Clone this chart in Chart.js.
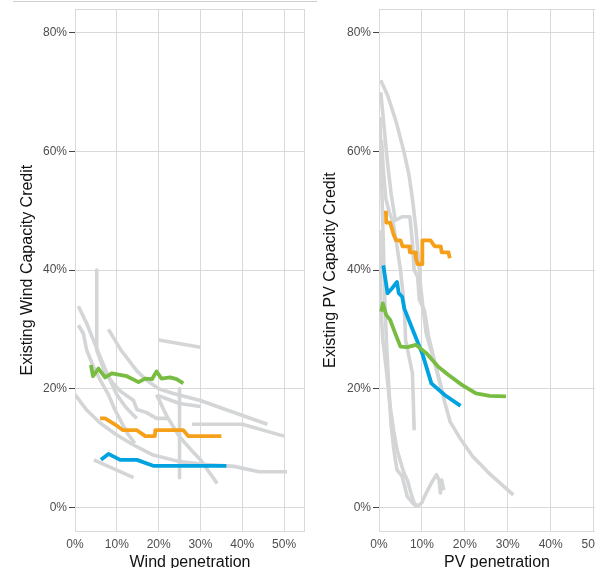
<!DOCTYPE html>
<html>
<head>
<meta charset="utf-8">
<script src="https://cdn.jsdelivr.net/npm/chart.js@4.4.1/dist/chart.umd.min.js"></script>
<style>
  html, body { margin: 0; padding: 0; background: #fff; overflow: hidden; }
  body { width: 595px; height: 568px; position: relative; }
  #topline { position: absolute; left: 13px; top: 1px; width: 304px; height: 0; border-top: 1px solid #cfcfcf; }
  #windChart { position: absolute; left: 0; top: 0; }
  #pvChart { position: absolute; left: 310px; top: 0; }
</style>
</head>
<body>
<div id="topline"></div>
<canvas id="windChart" width="310" height="580"></canvas>
<canvas id="pvChart" width="310" height="580"></canvas>
<script>
// tick values (percent)
const xTicks = [0, 10, 20, 30, 40, 50];
const yTicks = [0, 20, 40, 60, 80];

// --- wind panel: [penetration %, capacity credit %] ---
const windGreen = [[3.8,24.0],[4.3,22.1],[5.6,23.4],[7.2,21.9],[8.8,22.6],[12.4,22.1],[15.2,21.1],[16.8,21.7],[18.4,21.6],[19.5,22.9],[20.7,21.7],[22.7,21.9],[24.3,21.6],[25.9,20.9]];
const windOrange = [[6,15],[7.2,15],[9.5,14],[11.5,13],[14.8,13],[16.8,12],[19.1,12],[19.2,13],[25.9,13],[27.1,12],[35,12]];
const windBlue = [[6.2,8],[8,9],[10.8,8],[14.8,8],[18.7,7],[36.2,7]];
const windGrey = [
  [[0.8,33.9],[2.8,31],[4.4,28.2],[6,25.4],[8,22],[10,19],[12,17],[14,15.5],[14.8,15]],
  [[0.8,30.7],[2,29.3],[2.8,26.5],[4.4,23.7],[6,21.5],[8,19],[9.5,16.5],[11,14.5],[12.5,12.5],[14.3,10.8]],
  [[5.2,40],[5.2,26.5],[7,23],[9,21],[11,19.5],[13,18.5],[14,18],[14.8,16.5],[17,16],[19.5,15],[22,15]],
  [[8,30],[11,26.5],[14.8,23],[17,21.5],[20,20],[23.5,19.2],[30,18],[36,16.5],[46,14]],
  [[20,28.2],[30,27]],
  [[20,18.8],[25,17.5],[30,17]],
  [[19.5,19],[22,15.3],[25,11.9],[28,9.5],[30,8],[34,4]],
  [[0,19],[2.8,16.4],[6,14.2],[10,12.2],[14,10.5],[18.7,8.8],[25,7.7],[31.5,7.2],[38,6.9],[44,6],[50.7,6]],
  [[4.5,8],[14,5]],
  [[25,20],[25,5]],
  [[28,14],[40,14],[50,12]]
];

// --- PV panel ---
const pvGreen = [[0.5,33.0],[0.9,34.4],[1.7,32.4],[2.6,31.6],[3.8,29.3],[5.0,27.1],[6.6,27.0],[8.6,27.4],[11.0,26.0],[13.8,23.7],[16.2,22.3],[19.4,20.6],[22.6,19.2],[25.8,18.8],[29.6,18.7]];
const pvOrange = [[1.6,50],[1.7,48],[2.6,48],[3,47],[3.4,46],[4,45],[5,45],[5.5,44],[7,44],[7.2,43],[8.4,43],[8.6,42],[9,41],[10.1,41],[10.1,45],[12,45],[13,44],[14.4,44],[14.6,43],[16.2,43],[16.5,42]];
const pvBlue = [[1.0,40.8],[2.0,36.1],[3.0,36.9],[4.2,38.0],[4.6,36.1],[5.4,35.5],[5.9,33.5],[8.2,29.3],[10.2,25.7],[12.2,20.9],[15.4,18.9],[19.0,17.1]];
const pvGrey = [
  [[0.4,72],[2,69.5],[4,65],[5.8,60],[7,56],[7.8,52],[8.6,47],[9.2,42],[9.6,38],[10.2,34],[11,29.3],[13,24.3],[14.6,19.8],[15.4,17.5],[16.6,14.4],[19,11.5],[21.8,8.6],[26,5.5],[31.3,2.1]],
  [[0.4,70],[1.2,64],[2,58],[2.8,53],[3.8,48.4],[5.4,49],[7.2,49],[7.8,44.5],[8.2,40],[9,38.9],[9.4,35],[10.6,33.2],[11.5,29],[12.5,26],[13.5,23],[14.6,20]],
  [[0.2,65.8],[0.5,58],[0.8,50],[1.1,42],[1.4,34],[1.8,27],[2.3,20],[2.8,14],[3.5,9.5],[4.2,6.3],[5.4,5.2],[6.6,1.8],[8.2,0.4],[9,0.2],[10,0.8],[10.6,1.8],[12.2,4.1],[13.4,5.5],[14,4.6],[14.3,2.4],[14.6,4.6],[15.1,2.9]],
  [[0.2,46.7],[0.3,40],[0.5,33],[0.9,28.2],[1.8,22.6],[2.6,17],[3.4,13],[4.2,9.7],[5.8,5.8],[6.6,4.6],[7.4,2.5],[8.2,0.7],[9,0.2]],
  [[0.6,62],[1,57],[1.6,52],[2.5,49.5],[3.3,48],[4.2,44],[5,40],[5.6,36],[6,32],[6.2,28.2],[7.8,22.6],[8.2,13]]
];

const GREEN = '#78bc42', ORANGE = '#f6a01a', BLUE = '#00a2e0', GREY = '#d3d5d7';
const GRID = '#d9d9d9';

const toXY = arr => arr.map(p => ({ x: p[0], y: p[1] }));

function lineSet(pts, color, width, order) {
    return {
        data: toXY(pts), borderColor: color, borderWidth: width, order: order,
        showLine: true, pointRadius: 0, fill: false, tension: 0,
        borderJoinStyle: 'round', borderCapStyle: 'butt'
    };
}

// light frame around each plot area
const panelFrame = {
    id: 'panelFrame',
    beforeDatasetsDraw(chart) {
        const a = chart.chartArea, ctx = chart.ctx;
        ctx.save();
        ctx.strokeStyle = GRID;
        ctx.lineWidth = 1;
        ctx.strokeRect(Math.round(a.left) + 0.5, Math.round(a.top) + 0.5, Math.round(a.right - a.left) - 1, Math.round(a.bottom - a.top));
        ctx.restore();
    }
};

function makePanel(canvasId, green, orange, blue, greys, xTitle, yTitle, yAxisWidth, yTitlePad) {
    const datasets = [
        lineSet(green, GREEN, 3.8, 0),
        lineSet(orange, ORANGE, 3.8, 0),
        lineSet(blue, BLUE, 3.8, 0)
    ];
    greys.forEach(g => datasets.push(lineSet(g, GREY, 3.6, 1)));

    return new Chart(document.getElementById(canvasId), {
        type: 'scatter',
        data: { datasets },
        options: {
            responsive: false, animation: false, devicePixelRatio: 1,
            layout: { padding: { top: 8, right: 5, left: 0, bottom: 0 } },
            plugins: { legend: { display: false }, tooltip: { enabled: false } },
            scales: {
                x: {
                    type: 'linear', min: 0, max: 55,
                    afterBuildTicks: s => { s.ticks = xTicks.map(v => ({ value: v })); },
                    afterFit: s => { s.height = 49; },
                    grid: { color: GRID, drawTicks: false },
                    border: { display: false },
                    ticks: { padding: 6, color: '#4d4d4d', font: { family: 'Liberation Sans, Arial', size: 12 }, callback: v => v + '%' },
                    title: { display: true, text: xTitle, color: '#111', padding: { top: 0, bottom: 8 }, font: { family: 'Liberation Sans, Arial', size: 16 } }
                },
                y: {
                    type: 'linear', min: -4, max: 84,
                    afterBuildTicks: s => { s.ticks = yTicks.map(v => ({ value: v })); },
                    afterFit: s => { s.width = yAxisWidth; },
                    grid: { color: GRID, tickColor: '#444', tickLength: 6 },
                    border: { display: false },
                    ticks: { padding: 2, color: '#4d4d4d', font: { family: 'Liberation Sans, Arial', size: 12 }, callback: v => v + '%' },
                    title: { display: true, text: yTitle, color: '#111', padding: { top: yTitlePad, bottom: 0 }, font: { family: 'Liberation Sans, Arial', size: 16 } }
                }
            }
        },
        plugins: [panelFrame]
    });
}

makePanel('windChart', windGreen, windOrange, windBlue, windGrey, 'Wind penetration', 'Existing Wind Capacity Credit', 75, 18);
makePanel('pvChart', pvGreen, pvOrange, pvBlue, pvGrey, 'PV penetration', 'Existing PV Capacity Credit', 69, 11);
</script>
</body>
</html>
